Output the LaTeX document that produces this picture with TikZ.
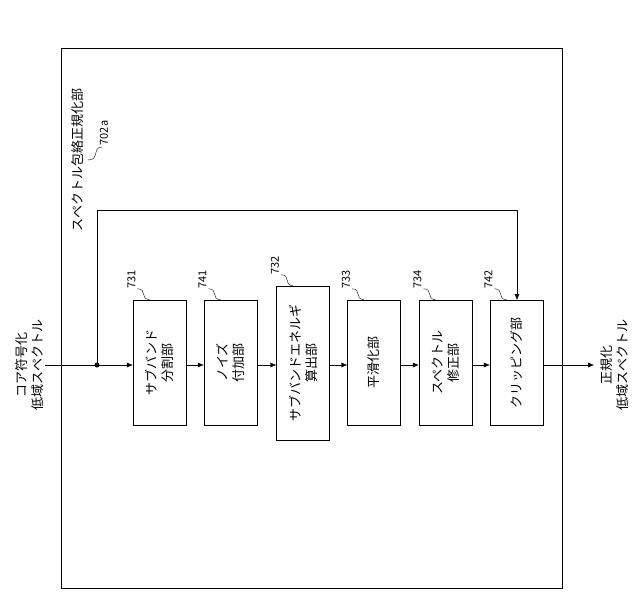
\documentclass[tikz,border=0pt]{standalone}
\usepackage{fontspec}
\setmainfont{Noto Sans CJK JP}
\usetikzlibrary{arrows.meta}
\tikzset{
  blk/.style={draw,minimum width=53pt,minimum height=125pt,inner sep=0pt},
  vtext/.style={rotate=90,align=center,font=\fontsize{13}{16}\selectfont},
  tag/.style={rotate=90,font=\fontsize{11}{12}\selectfont,inner sep=1pt},
  flow/.style={-{Latex[length=6pt,width=5pt]}}
}
\begin{document}
\begin{tikzpicture}[x=1pt,y=-1pt]
  \useasboundingbox (0,0) rectangle (640,592);
  \draw (61,48) rectangle (562,588);
  \node[vtext,anchor=center] (frame) at (78,160) {スペクトル包絡正規化部};
  \node[tag] (t702) at (104,133) {702a};
  \draw (102,147) .. controls (92,147) and (100,160) .. (88,160);
  \node[blk] (b731) at (159.5,362.5) {};
  \node[vtext] at (b731) {サブバンド\\分割部};
  \node[blk] (b741) at (230.5,362.5) {};
  \node[vtext] at (b741) {ノイズ\\付加部};
  \node[blk,minimum height=154pt] (b732) at (303,363) {};
  \node[vtext] at (b732) {サブバンドエネルギ\\算出部};
  \node[blk] (b733) at (374,362.5) {};
  \node[vtext] at (b733) {平滑化部};
  \node[blk] (b734) at (445.5,362.5) {};
  \node[vtext] at (b734) {スペクトル\\修正部};
  \node[blk] (b742) at (516.5,362.5) {};
  \node[vtext] at (b742) {クリッピング部};
  % reference tags
  \foreach \b/\t in {b731/731,b741/741,b732/732,b733/733,b734/734,b742/742}{
    \node[tag] at ([xshift=-28,yshift=20]\b.north) {\t};
    \draw ([xshift=-22,yshift=11]\b.north) .. controls ([xshift=-12,yshift=11]\b.north) and ([xshift=-20,yshift=1]\b.north) .. ([xshift=-10,yshift=0]\b.north);
  }
  % signal path
  \node[vtext] (inp) at (30,365) {コア符号化\\低域スペクトル};
  \node[vtext] (outp) at (615,365) {正規化\\低域スペクトル};
  \coordinate (start) at (45,365);
  \coordinate (dot) at (97,365);
  \coordinate (end) at (594,365);
  \fill (dot) circle (2.5);
  \draw (start) -- (dot);
  \draw[flow] (dot) -- (b731.west |- dot);
  \draw[flow] (b731.east |- dot) -- (b741.west |- dot);
  \draw[flow] (b741.east |- dot) -- (b732.west |- dot);
  \draw[flow] (b732.east |- dot) -- (b733.west |- dot);
  \draw[flow] (b733.east |- dot) -- (b734.west |- dot);
  \draw[flow] (b734.east |- dot) -- (b742.west |- dot);
  \draw[flow] (b742.east |- dot) -- (end);
  \draw[flow] (dot) -- (97,210) -- (517,210) -- (517,300);
\end{tikzpicture}
\end{document}
